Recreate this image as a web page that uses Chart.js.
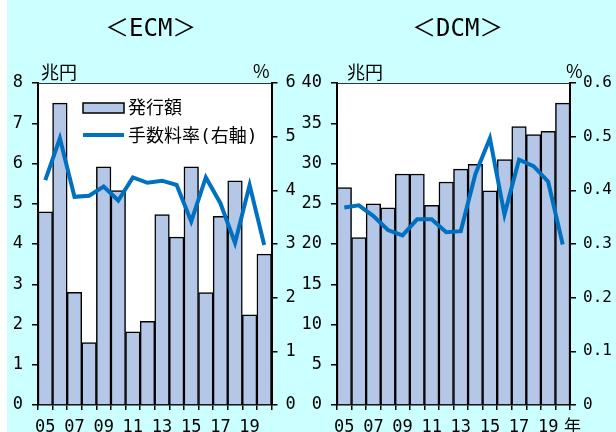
<!DOCTYPE html>
<html>
<head>
<meta charset="utf-8">
<script src="https://cdn.jsdelivr.net/npm/chart.js@4"></script>
<style>
  body { margin: 0; background: #fff; }
  #wrap { position: relative; width: 616px; height: 432px; overflow: hidden; }
  #bg { position: absolute; left: 7px; top: 0; right: 0; bottom: 0; background: #ccffff; }
  canvas { position: absolute; top: 0; }
  .txt { position: absolute; line-height: 1; white-space: nowrap; color: #000; }
  .ttl { font: 24px 'DejaVu Sans Mono', 'Noto Sans CJK JP'; }
  .unit { font: 18px 'Noto Sans CJK JP'; }
</style>
</head>
<body>
<div id="wrap">
  <div id="bg"></div>
  <canvas id="ecm" width="306" height="432" style="left:0"></canvas>
  <canvas id="dcm" width="320" height="432" style="left:296px"></canvas>
  <div class="txt ttl" style="left:105px;top:8px">＜ECM＞</div>
  <div class="txt ttl" style="left:412px;top:8px">＜DCM＞</div>
  <div class="txt unit" style="left:41px;top:58px">兆円</div>
  <div class="txt unit" style="left:253px;top:57px">%</div>
  <div class="txt unit" style="left:347px;top:58px">兆円</div>
  <div class="txt unit" style="left:566px;top:57px">%</div>
  <div class="txt unit" style="left:564px;top:412px;font-size:17px">年</div>
</div>
<script>
const years = ["05", "06", "07", "08", "09", "10", "11", "12", "13", "14", "15", "16", "17", "18", "19", "20"];

// ECM: 発行額 (兆円) / 手数料率 (%)
const ecmIssue = [4.8, 7.5, 2.8, 1.55, 5.92, 5.33, 1.82, 2.08, 4.73, 4.17, 5.92, 2.79, 4.69, 5.57, 2.24, 3.75];
const ecmFee = [4.19, 4.97, 3.88, 3.9, 4.07, 3.81, 4.24, 4.14, 4.18, 4.1, 3.42, 4.24, 3.76, 3.02, 4.1, 2.98];

// DCM
const dcmIssue = [27.0, 20.8, 25.0, 24.5, 28.7, 28.7, 24.8, 27.7, 29.3, 29.9, 26.6, 30.5, 34.6, 33.6, 34.0, 37.5];
const dcmFee = [0.368, 0.372, 0.352, 0.326, 0.316, 0.346, 0.346, 0.322, 0.324, 0.43, 0.497, 0.355, 0.457, 0.445, 0.416, 0.299];

const ecmLeftTicks = [0, 1, 2, 3, 4, 5, 6, 7, 8];
const ecmRightTicks = [0, 1, 2, 3, 4, 5, 6];
const dcmLeftTicks = [0, 5, 10, 15, 20, 25, 30, 35, 40];
const dcmRightTicks = [0, 0.1, 0.2, 0.3, 0.4, 0.5, 0.6];

const barLabel = "発行額";
const lineLabel = "手数料率(右軸)";

const BAR_COLOR = "#b4c7e7";
const LINE_COLOR = "#0070c0";
const tickFont = { family: "'DejaVu Sans Mono'", size: 17 };
const smallFont = { family: "'DejaVu Sans Mono'", size: 16 };

// white plot area + thin top frame
const plotBg = {
  id: "plotBg",
  beforeDraw(chart) {
    const a = chart.chartArea, ctx = chart.ctx;
    ctx.save();
    ctx.fillStyle = "#fff";
    ctx.fillRect(a.left, a.top, a.right - a.left, a.bottom - a.top);
    ctx.restore();
  },
  beforeDatasetsDraw(chart) {
    const a = chart.chartArea, ctx = chart.ctx;
    ctx.save();
    ctx.strokeStyle = "#333";
    ctx.lineWidth = 1;
    ctx.beginPath();
    ctx.moveTo(a.left, a.top + 0.5);
    ctx.lineTo(a.right, a.top + 0.5);
    ctx.stroke();
    ctx.restore();
  },
};

// legend inside the ECM plot
const innerLegend = {
  id: "innerLegend",
  afterDraw(chart) {
    if (chart.canvas.id !== "ecm") return;
    const ctx = chart.ctx;
    const ds = chart.data.datasets;
    ctx.save();
    ctx.fillStyle = BAR_COLOR;
    ctx.fillRect(83, 103, 41, 10);
    ctx.strokeStyle = "#000";
    ctx.lineWidth = 1.5;
    ctx.strokeRect(83, 103, 41, 10);
    ctx.strokeStyle = LINE_COLOR;
    ctx.lineWidth = 4;
    ctx.beginPath();
    ctx.moveTo(83, 135);
    ctx.lineTo(124, 135);
    ctx.stroke();
    ctx.fillStyle = "#000";
    ctx.font = "18px 'DejaVu Sans Mono', 'Noto Sans CJK JP'";
    ctx.textBaseline = "middle";
    ctx.fillText(ds[1].label, 128, 109);
    ctx.fillText(ds[0].label, 128, 137);
    ctx.restore();
  },
};

function makeChart(id, issue, fee, leftTicks, rightTicks, leftW, rightW, rightFont, rightPad, fmtRight) {
  const ctx = document.getElementById(id).getContext("2d");
  return new Chart(ctx, {
    type: "bar",
    data: {
      labels: years,
      datasets: [
        {
          type: "line",
          label: lineLabel,
          data: fee,
          yAxisID: "y2",
          borderColor: LINE_COLOR,
          borderWidth: 4,
          pointRadius: 0,
          tension: 0,
          order: 0,
        },
        {
          label: barLabel,
          data: issue,
          yAxisID: "y",
          backgroundColor: BAR_COLOR,
          borderColor: "#000",
          borderWidth: 1.5,
          categoryPercentage: 1,
          barPercentage: 1,
          order: 1,
        },
      ],
    },
    options: {
      responsive: false,
      animation: false,
      devicePixelRatio: 1,
      layout: { padding: { top: 83, left: 0, right: 0, bottom: 0 } },
      plugins: { legend: { display: false }, tooltip: { enabled: false } },
      scales: {
        x: {
          offset: true,
          grid: { offset: true, drawOnChartArea: false, tickLength: 5, color: "#000", lineWidth: 1.5 },
          border: { color: "#000", width: 1.5 },
          ticks: {
            autoSkip: false,
            maxRotation: 0,
            padding: 7,
            color: "#000",
            font: tickFont,
            callback: (v, i) => (i % 2 === 0 && i < years.length - 1 ? years[i] : ""),
          },
          afterFit: (s) => { s.height = 27; },
        },
        y: {
          position: "left",
          min: leftTicks[0],
          max: leftTicks[leftTicks.length - 1],
          afterBuildTicks: (s) => { s.ticks = leftTicks.map((v) => ({ value: v })); },
          grid: { drawOnChartArea: false, tickLength: 6, color: "#000", lineWidth: 1.5 },
          border: { color: "#000", width: 2 },
          ticks: { padding: 9, color: "#000", font: tickFont },
          afterFit: (s) => { s.width = leftW; },
        },
        y2: {
          position: "right",
          min: rightTicks[0],
          max: rightTicks[rightTicks.length - 1],
          afterBuildTicks: (s) => { s.ticks = rightTicks.map((v) => ({ value: v })); },
          grid: { drawOnChartArea: false, tickLength: 6, color: "#000", lineWidth: 1.5 },
          border: { color: "#000", width: 2 },
          ticks: { padding: rightPad, color: "#000", font: rightFont, callback: fmtRight },
          afterFit: (s) => { s.width = rightW; },
        },
      },
    },
    plugins: [plotBg, innerLegend],
  });
}

makeChart("ecm", ecmIssue, ecmFee, ecmLeftTicks, ecmRightTicks, 38, 34.5, tickFont, 8, (v) => String(v));
makeChart("dcm", dcmIssue, dcmFee, dcmLeftTicks, dcmRightTicks, 41, 46, smallFont, 7, (v) => (v === 0 ? "0" : v.toFixed(1)));
</script>
</body>
</html>
